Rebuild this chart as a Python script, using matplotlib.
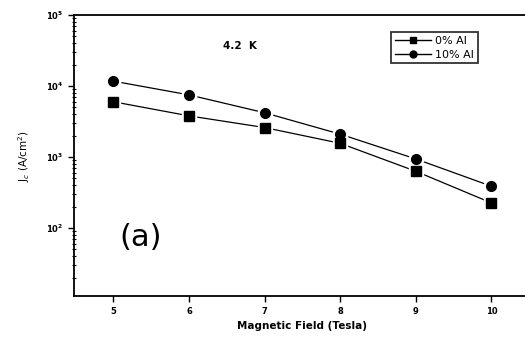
import matplotlib
matplotlib.use("Agg")
import matplotlib.pyplot as plt

field = [5, 6, 7, 8, 9, 10]
jc_0al = [6.0e3, 3.8e3, 2.6e3, 1.56e3, 630, 226]
jc_10al = [1.17e4, 7.5e3, 4.2e3, 2.1e3, 940, 388]
series = [("0% Al", jc_0al, "s"), ("10% Al", jc_10al, "o")]

plt.rcParams["font.family"] = "DejaVu Sans"
fig = plt.figure(figsize=(5.25, 3.4), dpi=100)
ax = fig.add_axes([0.141, 0.129, 0.867, 0.827])

for label, values, marker in series:
    ax.plot(field, values, color="black", lw=0.9, zorder=1)
    # white halo so the line stops short of each marker
    ax.plot(field, values, ls="none", marker=marker, ms=10.5, color="white", zorder=2)
    ax.plot(field, values, ls="none", marker=marker, ms=7, color="black", zorder=3)

handles = [
    plt.Line2D([], [], color="black", lw=1.0, marker=m, ms=5, label=l)
    for l, _, m in series
]
leg = ax.legend(handles=handles, loc="upper left", bbox_to_anchor=(0.697, 0.94),
                frameon=True, fancybox=False, edgecolor="black", fontsize=8,
                handlelength=3.2, handletextpad=0.4, borderpad=0.35,
                labelspacing=0.35, borderaxespad=0)
leg.get_frame().set_linewidth(1.3)

ax.set_yscale("log")
ax.set_ylim(11, 1e5)
ax.set_xlim(4.48, 10.5)
ax.set_xticks(field)
ax.spines["right"].set_visible(False)
for s in ("left", "bottom", "top"):
    ax.spines[s].set_linewidth(1.3)

ax.tick_params(axis="both", which="major", direction="out", length=4, width=1,
               labelsize=6)
ax.tick_params(axis="y", which="minor", direction="inout", length=3, width=0.8)
for t in ax.get_xticklabels() + ax.get_yticklabels():
    t.set_fontweight("bold")

ax.text(0.327, 0.89, "4.2  K", transform=ax.transAxes, fontsize=7.5,
        fontweight="bold", ha="left", va="center")
ax.text(0.10, 0.21, "(a)", transform=ax.transAxes, fontsize=22,
        ha="left", va="center")

ax.set_xlabel("Magnetic Field (Tesla)", fontsize=7.5, fontweight="bold",
              labelpad=4)
ax.set_ylabel(r"J$_c$ (A/cm$^2$)", fontsize=7.5, labelpad=10)

fig.savefig("out.png", dpi=100)
